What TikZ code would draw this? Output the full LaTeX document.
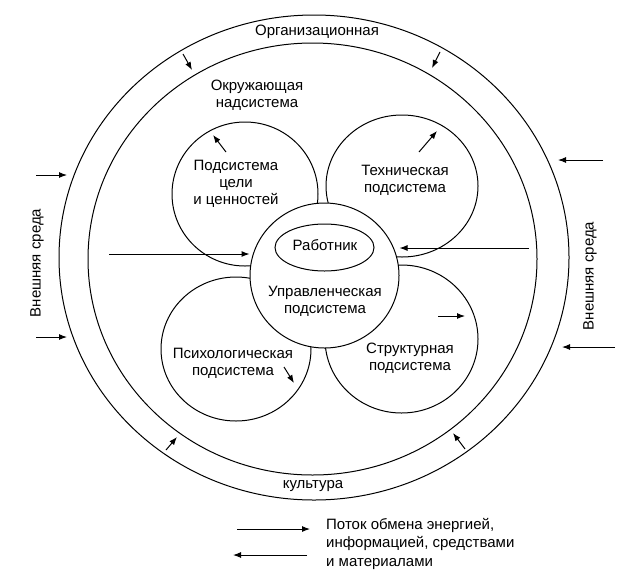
\documentclass[tikz,border=0pt]{standalone}
\usepackage{fontspec}
\setmainfont{Liberation Sans}
\usepackage{tikz}
\usetikzlibrary{arrows.meta,shapes.geometric,positioning}

\tikzset{
    ring/.style={draw, ellipse, inner sep=0pt, line width=1pt},
    subsys/.style={draw, ellipse, inner sep=0pt, line width=1pt, fill=white},
    caption/.style={align=center, inner sep=0pt, font=\fontsize{15}{17}\selectfont},
    flow/.style={-{Latex[length=8pt,width=6pt]}, line width=1pt},
}

\begin{document}
\begin{tikzpicture}[x=1pt,y=-1pt]
                \useasboundingbox (0,0) rectangle (628,584);

                \node[ring, minimum width=510pt, minimum height=485pt] (outer) at (314,257.5) {};
                \node[ring, minimum width=449pt, minimum height=432pt] (inner) at (312.5,259) {};

                \node[subsys, minimum width=146pt, minimum height=144pt] (goals) at (245,194) {};
                \node[subsys, minimum width=152pt, minimum height=142pt] (tech) at (402,186) {};
                \node[subsys, minimum width=150pt, minimum height=144pt] (psych) at (236,349) {};
                \node[subsys, minimum width=153pt, minimum height=148pt] (struct) at (401.5,339) {};
                \node[subsys, minimum width=149pt, minimum height=145pt] (mgmt) at (324.5,275.5) {};
                \node[subsys, minimum width=99pt, minimum height=47pt] (worker) at (324.5,247.5) {};

                \node[caption] (orgtxt) at (317,32) {Организационная};
                \node[caption] (culttxt) at (313,486) {культура};
                \node[caption] (envtxt) at (257,95) {Окружающая\\надсистема};
                \node[caption] (goalstxt) at (236,183.5) {Подсистема\\цели\\и ценностей};
                \node[caption] (techtxt) at (405,180.5) {Техническая\\подсистема};
                \node[caption] (workertxt) at (325,245) {Работник};
                \node[caption] (mgmttxt) at (325,301.5) {Управленческая\\подсистема};
                \node[caption] (psychtxt) at (233,363) {Психологическая\\подсистема};
                \node[caption] (structtxt) at (410,358) {Структурная\\подсистема};
                \node[caption, rotate=90] (extL) at (37,263) {Внешняя среда};
                \node[caption, rotate=90] (extR) at (590,276) {Внешняя среда};

                \coordinate (inL) at (109,254);
                \coordinate (inR) at (529,248);
                \draw[flow] (inL) -- (inL -| mgmt.west);
                \draw[flow] (inR) -- (inR -| mgmt.east);

                \coordinate (extL1) at (36,175);
                \coordinate (extL2) at (36,337);
                \coordinate (extR1) at (603,160);
                \coordinate (extR2) at (615,347);
                \draw[flow] (extL1) -- (67,175);
                \draw[flow] (extL2) -- (67,337);
                \draw[flow] (extR1) -- (558,160);
                \draw[flow] (extR2) -- (562,347);

                \draw[flow] (183,54) -- (192,70);
                \draw[flow] (440,52) -- (432,68);
                \draw[flow] (166,450) -- (177,437);
                \draw[flow] (465,449) -- (453,433);

                \draw[flow] (226,152) -- (213,135);
                \draw[flow] (419,152) -- (437,131);
                \draw[flow] (284,367) -- (294,383);
                \draw[flow] (438,316) -- (465,316);

                \coordinate (keyA) at (237,529);
                \coordinate (keyB) at (307,555);
                \draw[flow] (keyA) -- (310,529);
                \draw[flow] (keyB) -- (233,555);
                \node[caption, anchor=west, align=left, font=\fontsize{15}{18.5}\selectfont] (keytxt) at (326,543.5) {Поток обмена энергией,\\информацией, средствами\\и материалами};
            \end{tikzpicture}
\end{document}
